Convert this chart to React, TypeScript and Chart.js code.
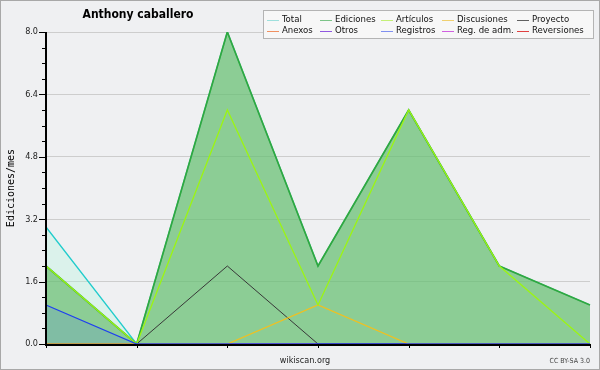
import React, { useEffect, useRef } from "react";
import { Chart, registerables } from "chart.js";

Chart.register(...registerables);

const categories = ["ene", "feb", "mar", "abr", "may", "jun", "jul"];
const total = [3, 0, 8, 2, 6, 2, 1];
const ediciones = [2, 0, 8, 2, 6, 2, 1];
const articulos = [2, 0, 6, 1, 6, 2, 0];
const discusiones = [0, 0, 0, 1, 0, 0, 0];
const proyecto = [0, 0, 2, 0, 0, 0, 0];
const anexos = [0, 0, 0, 0, 0, 0, 0];
const otros = [0, 0, 0, 0, 0, 0, 0];
const registros = [1, 0, 0, 0, 0, 0, 0];
const regAdm = [0, 0, 0, 0, 0, 0, 0];
const reversiones = [0, 0, 0, 0, 0, 0, 0];

const legendItems = [
  ["Total", "#9fe0dd"],
  ["Ediciones", "#7cc488"],
  ["Artículos", "#c4f078"],
  ["Discusiones", "#f0d070"],
  ["Proyecto", "#606060"],
  ["Anexos", "#f09060"],
  ["Otros", "#9058e0"],
  ["Registros", "#8090f0"],
  ["Reg. de adm.", "#d060e0"],
  ["Reversiones", "#e04040"],
];

const FONT = '"DejaVu Sans Condensed", "DejaVu Sans", sans-serif';

const decor = {
  id: "decor",
  beforeDraw(chart: any) {
    const ctx = chart.ctx;
    ctx.save();
    ctx.fillStyle = "#eff0f2";
    ctx.fillRect(0, 0, chart.width, chart.height);
    ctx.restore();
  },
  afterDatasetsDraw(chart: any) {
    const ctx = chart.ctx;
    const a = chart.chartArea;
    const ys = chart.scales.y;
    const xs = chart.scales.x;
    ctx.save();
    ctx.strokeStyle = "#000";
    ctx.lineWidth = 1;
    ys.ticks.forEach((t: any) => {
      const y = Math.round(ys.getPixelForValue(t.value)) + 0.5;
      const major = Math.abs(t.value / 1.6 - Math.round(t.value / 1.6)) < 1e-6;
      ctx.beginPath();
      ctx.moveTo(a.left - (major ? 7 : 4), y);
      ctx.lineTo(a.left, y);
      ctx.stroke();
    });
    categories.forEach((_c, i) => {
      const x = Math.round(xs.getPixelForValue(i)) + 0.5;
      ctx.beginPath();
      ctx.moveTo(x, a.bottom);
      ctx.lineTo(x, a.bottom + 4);
      ctx.stroke();
    });
    ctx.lineWidth = 2;
    ctx.beginPath();
    ctx.moveTo(a.left, a.top);
    ctx.lineTo(a.left, a.bottom + 1);
    ctx.lineTo(a.right + 1, a.bottom + 1);
    ctx.stroke();
    ctx.restore();
  },
  afterDraw(chart: any) {
    const ctx = chart.ctx;
    ctx.save();
    ctx.fillStyle = "#000";
    ctx.font = `bold 12px ${FONT}`;
    ctx.textAlign = "center";
    ctx.textBaseline = "middle";
    ctx.fillText("Anthony caballero", 138, 15);
    ctx.save();
    ctx.translate(11, 188);
    ctx.rotate(-Math.PI / 2);
    ctx.font = `10px "DejaVu Sans Mono", monospace`;
    ctx.fillText("Ediciones/mes", 0, 0);
    ctx.restore();
    ctx.font = `9px ${FONT}`;
    ctx.fillStyle = "#222";
    ctx.fillText("wikiscan.org", 305, 361);
    ctx.font = `7px ${FONT}`;
    ctx.textAlign = "right";
    ctx.fillStyle = "#444";
    ctx.fillText("CC BY-SA 3.0", 590, 361);
    ctx.fillStyle = "#f7f7f7";
    ctx.fillRect(263, 10, 331, 29);
    ctx.strokeStyle = "#b4b4b4";
    ctx.lineWidth = 1;
    ctx.strokeRect(263.5, 10.5, 330, 28);
    const cols = [267, 320, 381, 442, 517];
    ctx.font = `9.5px ${FONT}`;
    ctx.textAlign = "left";
    legendItems.forEach(([label, color], i) => {
      const col = i % 5;
      const row = Math.floor(i / 5);
      const x = cols[col];
      const y = row === 0 ? 19.5 : 30.5;
      ctx.strokeStyle = color;
      ctx.beginPath();
      ctx.moveTo(x, Math.round(y) + 0.5);
      ctx.lineTo(x + 12, Math.round(y) + 0.5);
      ctx.stroke();
      ctx.fillStyle = "#111";
      ctx.fillText(label, x + 15, y);
    });
    ctx.strokeStyle = "#a8a8a8";
    ctx.strokeRect(0.5, 0.5, chart.width - 1, chart.height - 1);
    ctx.restore();
  },
};

export default function App() {
  const ref = useRef<HTMLCanvasElement>(null);
  useEffect(() => {
    document.body.style.margin = "0";
    const mk = (label: string, data: number[], color: string, order: number, extra: any = {}) => ({
      label,
      data,
      borderColor: color,
      borderWidth: 1.3,
      pointRadius: 0,
      tension: 0,
      fill: false,
      order,
      ...extra,
    });
    const chart = new Chart(ref.current!, {
      type: "line",
      data: {
        labels: categories,
        datasets: [
          mk("Total", total, "#22cccc", 20, { fill: "origin", backgroundColor: "rgba(176,247,222,0.32)" }),
          mk("Ediciones", ediciones, "#30a840", 19, { fill: "origin", backgroundColor: "rgba(86,180,92,0.6)", borderWidth: 1.7 }),
          mk("Anexos", anexos, "#f09060", 15),
          mk("Otros", otros, "#9058e0", 15),
          mk("Reg. de adm.", regAdm, "#d060e0", 15),
          mk("Reversiones", reversiones, "#e04040", 15),
          mk("Proyecto", proyecto, "#383838", 8, { borderWidth: 1 }),
          mk("Discusiones", discusiones, "#f0c020", 7),
          mk("Artículos", articulos, "#9cf512", 6),
          mk("Registros", registros, "#1f3ff0", 5, { fill: "origin", backgroundColor: "rgba(60,100,255,0.15)" }),
        ],
      },
      options: {
        animation: false,
        responsive: false,
        layout: { padding: { left: 0, right: 10, top: 32, bottom: 0 } },
        plugins: { legend: { display: false }, title: { display: false }, tooltip: { enabled: false } },
        scales: {
          x: {
            offset: false,
            grid: { display: false },
            border: { display: false },
            ticks: { display: false },
            afterFit: (s: any) => {
              s.height = 26;
            },
          },
          y: {
            min: 0,
            max: 8,
            border: { display: false },
            grid: {
              drawTicks: false,
              color: (c: any) => {
                const v = c.tick ? c.tick.value : 0;
                return Math.abs(v / 1.6 - Math.round(v / 1.6)) < 1e-6 ? "#cdcdcd" : "rgba(0,0,0,0)";
              },
            },
            ticks: {
              stepSize: 0.4,
              padding: 8,
              color: "#222",
              font: { family: FONT, size: 9 },
              callback: (v: any) => {
                const n = Number(v);
                return Math.abs(n / 1.6 - Math.round(n / 1.6)) < 1e-6 ? n.toFixed(1) : "";
              },
            },
            afterFit: (s: any) => {
              s.width = 46;
            },
          },
        },
      },
      plugins: [decor],
    } as any);
    return () => chart.destroy();
  }, []);
  return <canvas ref={ref} width={600} height={370} style={{ display: "block" }} />;
}
